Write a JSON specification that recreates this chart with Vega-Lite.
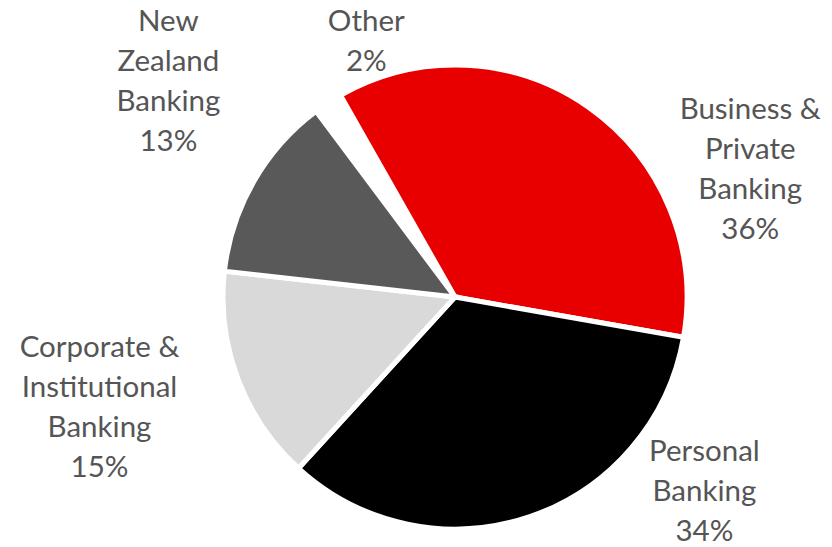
{
  "$schema": "https://vega.github.io/schema/vega-lite/v6.json",
  "width": 754,
  "height": 500,
  "autosize": {"type": "none"},
  "padding": {"left": 78, "top": 47, "right": 0, "bottom": 0},
  "background": "white",
  "data": {
    "values": [
      {"segment": "Other", "share": 2, "order": 1, "label": "Other\n2%"},
      {"segment": "Business & Private Banking", "share": 36, "order": 2, "label": "Business &\nPrivate\nBanking\n36%"},
      {"segment": "Personal Banking", "share": 34, "order": 3, "label": "Personal\nBanking\n34%"},
      {"segment": "Corporate & Institutional Banking", "share": 15, "order": 4, "label": "Corporate &\nInstitutional\nBanking\n15%"},
      {"segment": "New Zealand Banking", "share": 13, "order": 5, "label": "New\nZealand\nBanking\n13%"}
    ]
  },
  "encoding": {
    "theta": {"field": "share", "type": "quantitative", "stack": true, "scale": {"range": [-0.642, 5.641]}},
    "order": {"field": "order", "type": "quantitative"}
  },
  "layer": [
    {
      "mark": {"type": "arc", "outerRadius": 232, "stroke": "white", "strokeWidth": 5},
      "encoding": {
        "color": {
          "field": "segment",
          "type": "nominal",
          "scale": {
            "domain": ["Other", "Business & Private Banking", "Personal Banking", "Corporate & Institutional Banking", "New Zealand Banking"],
            "range": ["#ffffff", "#e80000", "#000000", "#d9d9d9", "#595959"]
          },
          "legend": null
        }
      }
    },
    {
      "mark": {"type": "text", "radius": 290, "dx": 70, "dy": -32, "font": "Lato", "fontSize": 29.5, "lineHeight": 40, "lineBreak": "\n", "color": "#555555", "align": "center", "baseline": "middle"},
      "encoding": {"text": {"condition": {"test": "datum.segment === 'Other'", "field": "label"}, "value": ""}}
    },
    {
      "mark": {"type": "text", "radius": 290, "dx": 128, "dy": 50, "font": "Lato", "fontSize": 29.5, "lineHeight": 40, "lineBreak": "\n", "color": "#555555", "align": "center", "baseline": "middle"},
      "encoding": {"text": {"condition": {"test": "datum.segment === 'Business & Private Banking'", "field": "label"}, "value": ""}}
    },
    {
      "mark": {"type": "text", "radius": 290, "dx": 156, "dy": -120, "font": "Lato", "fontSize": 29.5, "lineHeight": 40, "lineBreak": "\n", "color": "#555555", "align": "center", "baseline": "middle"},
      "encoding": {"text": {"condition": {"test": "datum.segment === 'Personal Banking'", "field": "label"}, "value": ""}}
    },
    {
      "mark": {"type": "text", "radius": 290, "dx": -84, "dy": -51, "font": "Lato", "fontSize": 29.5, "lineHeight": 40, "lineBreak": "\n", "color": "#555555", "align": "center", "baseline": "middle"},
      "encoding": {"text": {"condition": {"test": "datum.segment === 'Corporate & Institutional Banking'", "field": "label"}, "value": ""}}
    },
    {
      "mark": {"type": "text", "radius": 290, "dx": -35, "dy": -131, "font": "Lato", "fontSize": 29.5, "lineHeight": 40, "lineBreak": "\n", "color": "#555555", "align": "center", "baseline": "middle"},
      "encoding": {"text": {"condition": {"test": "datum.segment === 'New Zealand Banking'", "field": "label"}, "value": ""}}
    }
  ],
  "config": {"view": {"stroke": null}}
}
